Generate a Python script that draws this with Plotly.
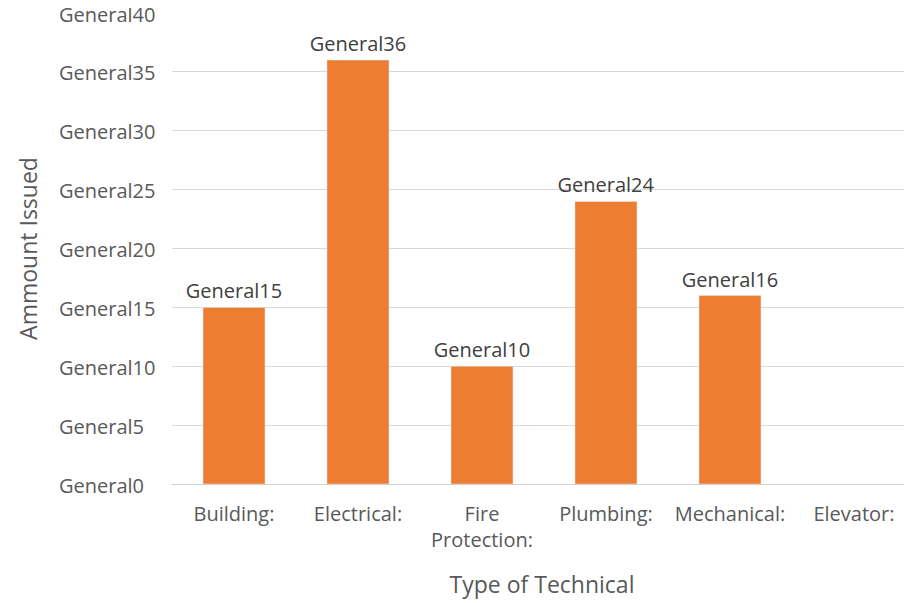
import plotly.graph_objects as go

categories = ["Building:", "Electrical:", "Fire<br>Protection:", "Plumbing:", "Mechanical:", "Elevator:"]
values = [15, 36, 10, 24, 16, None]
labels = ["General15", "General36", "General10", "General24", "General16", ""]
tick_vals = [0, 5, 10, 15, 20, 25, 30, 35, 40]
tick_text = ["General0", "General5", "General10", "General15", "General20",
             "General25", "General30", "General35", "General40"]

font_family = "Open Sans, Noto Sans, sans-serif"

fig = go.Figure(go.Bar(
    x=categories, y=values, text=labels, textposition="outside",
    marker_color="#ED7D31", cliponaxis=False, constraintext="none",
    textfont=dict(size=20, color="#404040", family=font_family),
))

# page body has an 8px margin, so margins are offset by 8px
fig.update_layout(
    width=904, height=595,
    margin=dict(l=164, r=0, t=5, b=119, autoexpand=False),
    plot_bgcolor="white", paper_bgcolor="white",
    bargap=0.5, showlegend=False,
    font=dict(family=font_family, color="#595959"),
)
fig.update_yaxes(
    range=[0, 40], tickvals=tick_vals, showticklabels=False, automargin=False,
    showgrid=True, gridcolor="#D9D9D9", gridwidth=1,
    zeroline=True, zerolinecolor="#D0D0D0", zerolinewidth=1,
    ticks="outside", ticklen=12, tickcolor="rgba(0,0,0,0)",
    title=dict(text="Ammount Issued", font=dict(size=23, color="#595959"), standoff=114),
)
# left-aligned tick labels, as in the reference
for v, t in zip(tick_vals, tick_text):
    fig.add_annotation(
        x=0, xref="paper", y=v, yref="y", text=t, showarrow=False,
        xanchor="left", yanchor="middle", xshift=-115, yshift=-1,
        font=dict(size=20, color="#595959", family=font_family),
    )
fig.update_xaxes(
    range=[-0.5, 5.468], automargin=False,
    ticks="outside", ticklen=12, tickcolor="rgba(0,0,0,0)",
    tickfont=dict(size=20, color="#595959"),
    title=dict(text="Type of Technical", font=dict(size=23, color="#595959"), standoff=24),
    showline=False,
)

fig.write_html("out.html")
